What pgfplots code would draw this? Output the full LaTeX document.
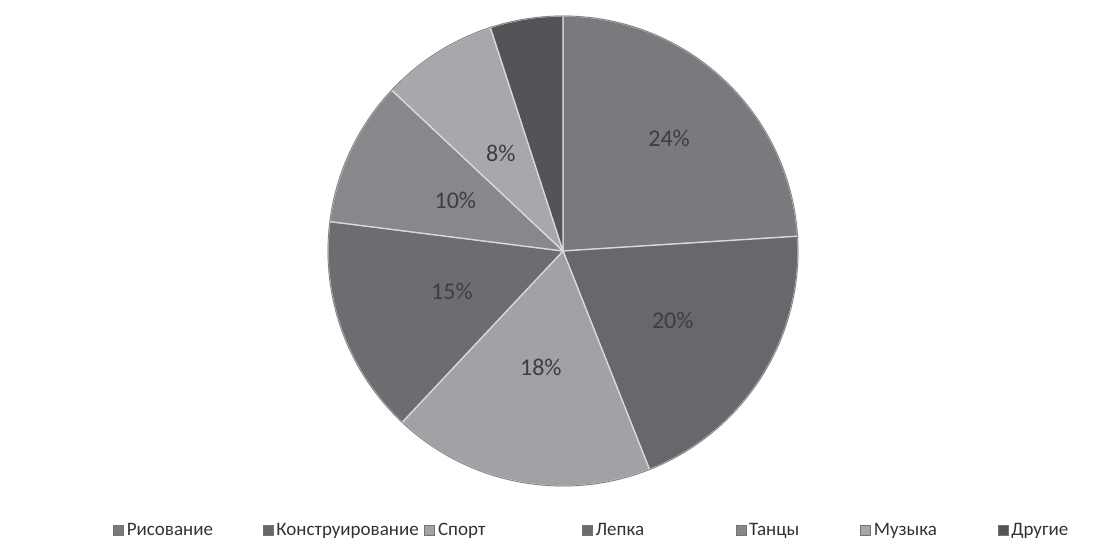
\documentclass[border=0pt]{standalone}
\usepackage{pgfplots}
\pgfplotsset{compat=1.18}
\usepackage{pgfplotstable}
\usepackage{fontspec}
\setmainfont{Carlito}

% slice shades (scanned greys)
\definecolor{sl0}{RGB}{122,122,126}
\definecolor{sl1}{RGB}{104,104,108}
\definecolor{sl2}{RGB}{162,162,166}
\definecolor{sl3}{RGB}{110,108,112}
\definecolor{sl4}{RGB}{136,136,140}
\definecolor{sl5}{RGB}{168,168,172}
\definecolor{sl6}{RGB}{84,84,88}
\definecolor{lbl}{RGB}{62,62,64}
\definecolor{legtxt}{RGB}{50,50,52}

% value = percent, lr = label distance from centre, show = print label
\pgfplotstableread[col sep=comma]{
label,value,lr,show
Рисование,24,155,1
Конструирование,20,130,1
Спорт,18,118,1
Лепка,15,118,1
Танцы,10,119,1
Музыка,8,116,1
Другие,5,120,0
}\piedata

\newcommand{\legsq}[1]{\addlegendimage{legend image code/.code={%
  \fill[fill=#1, draw=black!55, line width=0.6bp] (0bp,-5bp) rectangle (10bp,5bp);}}}

\begin{document}
\begin{tikzpicture}
\begin{axis}[
  scale only axis,
  width=1099bp, height=549bp,
  xmin=0, xmax=1099, ymin=0, ymax=549,
  hide axis, clip=false,
  legend columns=7,
  legend style={at={(axis cs:113,19)}, anchor=west, draw=none, fill=none,
    inner sep=0pt, column sep=0pt, text=legtxt,
    font=\fontsize{19bp}{23bp}\selectfont,
    nodes={inner sep=0pt},
    cells={anchor=west}},
]
\path (axis cs:0,0) rectangle (axis cs:1099,549);

\pgfplotstablegetrowsof{\piedata}
\pgfmathtruncatemacro\nrows{\pgfplotsretval-1}
\def\cum{0}
\pgfplotsforeachungrouped \i in {0,...,\nrows}{
  \pgfplotstablegetelem{\i}{value}\of\piedata \let\v\pgfplotsretval
  \pgfplotstablegetelem{\i}{lr}\of\piedata \let\lr\pgfplotsretval
  \pgfplotstablegetelem{\i}{show}\of\piedata \let\sh\pgfplotsretval
  \pgfmathsetmacro\a{90-3.6*\cum}
  \pgfmathsetmacro\b{90-3.6*(\cum+\v)}
  \pgfmathsetmacro\m{(\a+\b)/2}
  \pgfmathsetmacro\lx{563+\lr*cos(\m)}
  \pgfmathsetmacro\ly{298+\lr*sin(\m)}
  \pgfmathtruncatemacro\vv{\v}
  \edef\temp{\noexpand\fill[fill=sl\i, draw=white!85!black, line width=1.3bp, line join=round]
    (axis cs:563,298) -- ([shift={(\a:235bp)}]axis cs:563,298)
    arc[start angle=\a, end angle=\b, radius=235bp] -- cycle;}
  \temp
  \ifnum\sh=1
    \edef\temp{\noexpand\node[text=lbl, font=\noexpand\fontsize{24bp}{27bp}\noexpand\selectfont]
      at (axis cs:\lx,\ly) {\vv\noexpand\%};}
    \temp
  \fi
  \pgfmathsetmacro\cum{\cum+\v}
}
\draw[black!50, line width=0.8bp] (axis cs:563,298) circle[radius=235bp];

\legsq{sl0}\addlegendentry{\hspace{3bp}\makebox[136bp][l]{Рисование}}
\legsq{sl1}\addlegendentry{\hspace{3bp}\makebox[148bp][l]{Конструирование}}
\legsq{sl2}\addlegendentry{\hspace{3bp}\makebox[144bp][l]{Спорт}}
\legsq{sl3}\addlegendentry{\hspace{3bp}\makebox[140bp][l]{Лепка}}
\legsq{sl4}\addlegendentry{\hspace{3bp}\makebox[111bp][l]{Танцы}}
\legsq{sl5}\addlegendentry{\hspace{3bp}\makebox[124bp][l]{Музыка}}
\legsq{sl6}\addlegendentry{\hspace{3bp}Другие}
\end{axis}
\end{tikzpicture}
\end{document}
